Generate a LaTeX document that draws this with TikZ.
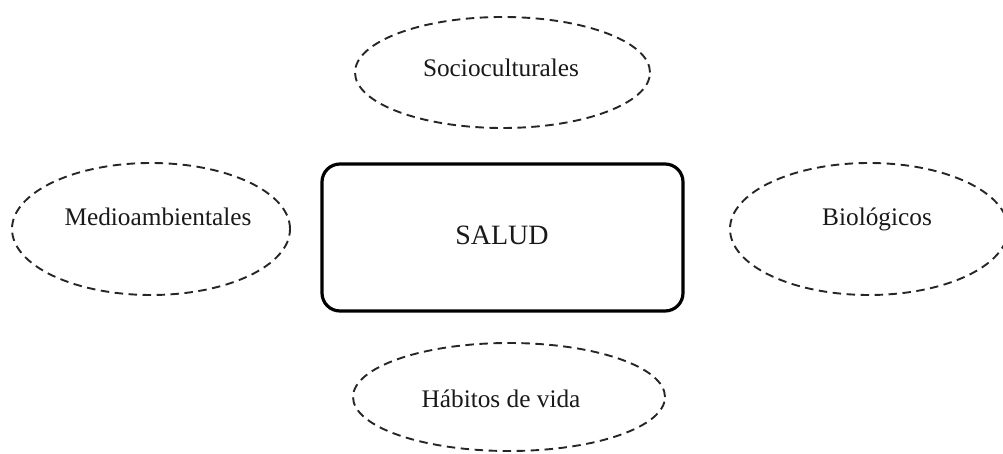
\documentclass[tikz,border=0pt]{standalone}
\usepackage{fontspec}
\setmainfont{Liberation Serif}
\usetikzlibrary{shapes.geometric}
\begin{document}
\begin{tikzpicture}[x=1pt,y=-1pt,
  factor/.style={ellipse, draw=black!85, line width=1.9pt, dash pattern=on 8.5pt off 5.5pt, inner sep=0pt},
  ftext/.style={inner sep=0pt, anchor=base, text=black!90, font=\fontsize{25.3pt}{30pt}\selectfont},
  mainbox/.style={draw=black, line width=3.2pt, rounded corners=18pt, inner sep=0pt,
     minimum width=361pt, minimum height=147pt}]
\useasboundingbox (0,0) rectangle (1003,454);
\node[factor, minimum width=295pt, minimum height=111pt] (socio) at (502.5,72.5) {};
\node[ftext] (socioT) at (501,77) {Socioculturales};
\node[factor, minimum width=278pt, minimum height=132pt] (medio) at (151,229) {};
\node[ftext] (medioT) at (158,226) {Medioambientales};
\node[factor, minimum width=278pt, minimum height=132pt] (bio) at (869,229) {};
\node[ftext] (bioT) at (877,226) {Biológicos};
\node[factor, minimum width=312pt, minimum height=108pt] (habitos) at (509,397) {};
\node[ftext] (habitosT) at (501,407) {Hábitos de vida};
\node[mainbox] (salud) at (502.5,237.5) {};
\node[inner sep=0pt, anchor=base, text=black!90, font=\fontsize{28pt}{33pt}\selectfont] (saludT) at (502,244) {SALUD};
\end{tikzpicture}
\end{document}
